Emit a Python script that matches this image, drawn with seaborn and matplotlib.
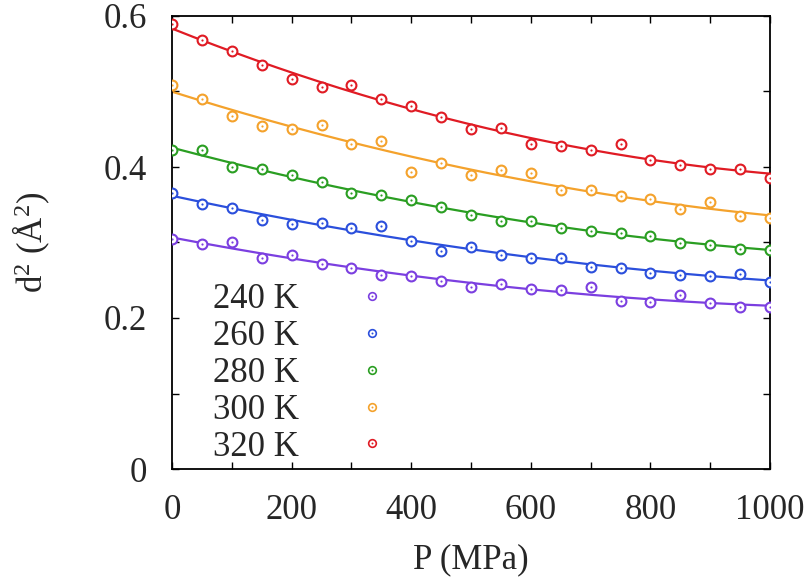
import numpy as np
import pandas as pd
import matplotlib
matplotlib.use("Agg")
import matplotlib.pyplot as plt
from matplotlib.lines import Line2D
from matplotlib.ticker import MultipleLocator, FuncFormatter
import seaborn as sns

pressure = [0, 50, 100, 150, 200, 250, 300, 350, 400, 450, 500,
            550, 600, 650, 700, 750, 800, 850, 900, 950, 1000]

d2_240 = [0.305, 0.298, 0.301, 0.280, 0.284, 0.272, 0.266, 0.257, 0.255, 0.249, 0.241,
          0.245, 0.238, 0.237, 0.241, 0.222, 0.221, 0.230, 0.220, 0.214, 0.215]
d2_260 = [0.366, 0.351, 0.346, 0.330, 0.325, 0.326, 0.319, 0.322, 0.302, 0.289, 0.294,
          0.283, 0.280, 0.280, 0.268, 0.266, 0.260, 0.257, 0.256, 0.258, 0.248]
d2_280 = [0.422, 0.422, 0.400, 0.397, 0.389, 0.380, 0.365, 0.363, 0.356, 0.347, 0.337,
          0.328, 0.328, 0.319, 0.315, 0.313, 0.309, 0.300, 0.297, 0.292, 0.290]
d2_300 = [0.508, 0.490, 0.468, 0.454, 0.450, 0.456, 0.431, 0.434, 0.394, 0.405, 0.389,
          0.396, 0.392, 0.370, 0.370, 0.361, 0.357, 0.344, 0.354, 0.335, 0.333]
d2_320 = [0.589, 0.568, 0.553, 0.535, 0.517, 0.506, 0.509, 0.490, 0.481, 0.466, 0.450,
          0.452, 0.430, 0.428, 0.422, 0.431, 0.409, 0.403, 0.398, 0.398, 0.386]

temps = ["240 K", "260 K", "280 K", "300 K", "320 K"]
series = [d2_240, d2_260, d2_280, d2_300, d2_320]
colors = ["#7b3fe0", "#2b4fdc", "#2a9e22", "#f4a22c", "#e01b24"]


def fit_curve(x, y):
    # smooth quadratic fit through the points, like the fitted lines in the figure
    coef = np.polyfit(x, y, 2)
    xs = np.linspace(0, 1000, 200)
    return xs, np.polyval(coef, xs)


sns.set_theme(style="ticks")
plt.rcParams["font.family"] = ["Liberation Serif", "DejaVu Serif"]
plt.rcParams["mathtext.fontset"] = "custom"
plt.rcParams["mathtext.rm"] = "Liberation Serif"
plt.rcParams["mathtext.it"] = "Liberation Serif:italic"

fig, ax = plt.subplots(figsize=(8.1, 5.81), dpi=100)
fig.subplots_adjust(left=172 / 810, right=770 / 810, top=1 - 16 / 581, bottom=1 - 469 / 581)

rows = []
for t, vals in zip(temps, series):
    for p, v in zip(pressure, vals):
        rows.append({"P": p, "d2": v, "T": t})
df = pd.DataFrame(rows)

handles = []
for t, vals, c in zip(temps, series, colors):
    xs, ys = fit_curve(pressure, vals)
    sns.lineplot(x=xs, y=ys, color=c, lw=1.6, ax=ax)
    sub = df[df["T"] == t]
    sns.scatterplot(data=sub, x="P", y="d2", marker="o", s=50, facecolor="white",
                    edgecolor=c, linewidth=1.5, ax=ax, zorder=3, legend=False)
    sns.scatterplot(data=sub, x="P", y="d2", marker="o", s=2.5, color=c,
                    linewidth=0, ax=ax, zorder=4, legend=False)
    ring = Line2D([], [], ls="none", marker="o", ms=5.5, mfc="white", mec=c, mew=1.2)
    dot = Line2D([], [], ls="none", marker="o", ms=1.4, mfc=c, mec=c, mew=0)
    handles.append((ring, dot))

ax.set_xlim(0, 1000)
ax.set_ylim(0, 0.6)
ax.xaxis.set_major_locator(MultipleLocator(200))
ax.xaxis.set_minor_locator(MultipleLocator(100))
ax.yaxis.set_major_locator(MultipleLocator(0.2))
ax.yaxis.set_minor_locator(MultipleLocator(0.1))
ax.xaxis.set_major_formatter(FuncFormatter(lambda v, pos: "%g" % v))
ax.yaxis.set_major_formatter(FuncFormatter(lambda v, pos: "%g" % round(v, 1)))
ax.tick_params(which="both", direction="in", top=True, right=True, width=1.0, color="black")
ax.tick_params(which="major", length=5, labelsize=25, pad=18)
ax.tick_params(which="minor", length=5)
for s in ax.spines.values():
    s.set_linewidth(1.3)
    s.set_color("black")

ax.set_xlabel("P (MPa)", fontsize=25)
ax.set_ylabel("d$^{2}$ (Å$^{2}$)", fontsize=25)
ax.xaxis.set_label_coords(0.5, -0.165)
ax.yaxis.set_label_coords(-0.2, 0.5)

ax.legend(handles, temps, loc="upper left", bbox_to_anchor=(0.0686, 0.41),
          frameon=False, markerfirst=False, fontsize=25, handlelength=3.0,
          handletextpad=0.6, labelspacing=0.11, borderpad=0, borderaxespad=0)

fig.savefig("out.png", dpi=100)
